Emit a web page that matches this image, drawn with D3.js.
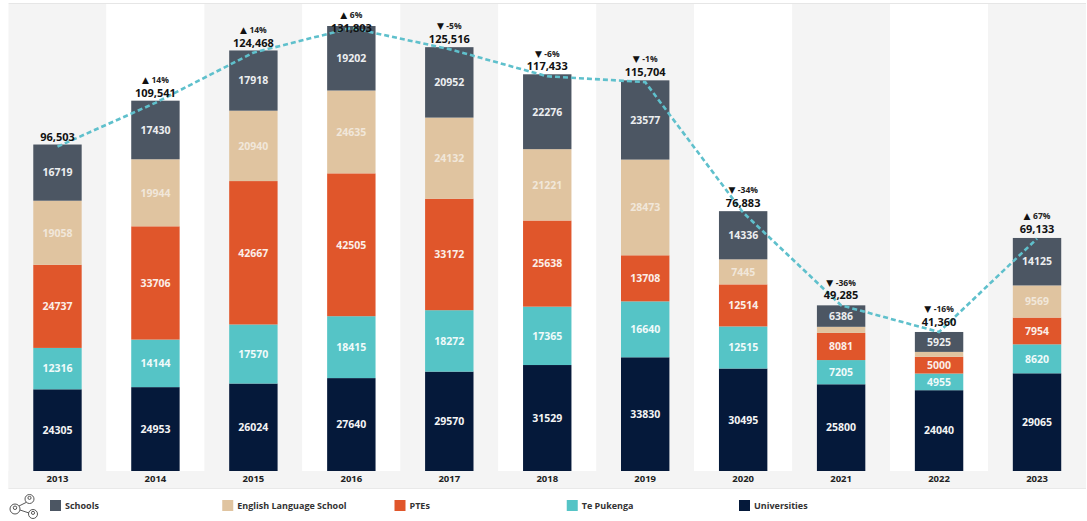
<!DOCTYPE html>
<html>
<head>
<meta charset="utf-8">
<script src="https://cdn.jsdelivr.net/npm/d3@7"></script>
<style>
  html, body { margin: 0; padding: 0; background: #fff; }
  svg { display: block; }
  text { font-family: "Open Sans", "Noto Sans", sans-serif; }
</style>
</head>
<body>
<svg width="1087" height="521"></svg>
<script>
const years = ["2013", "2014", "2015", "2016", "2017", "2018", "2019", "2020", "2021", "2022", "2023"]
const universities = [24305, 24953, 26024, 27640, 29570, 31529, 33830, 30495, 25800, 24040, 29065]
const tePukenga = [12316, 14144, 17570, 18415, 18272, 17365, 16640, 12515, 7205, 4955, 8620]
const ptes = [24737, 33706, 42667, 42505, 33172, 25638, 13708, 12514, 8081, 5000, 7954]
const english = [19058, 19944, 20940, 24635, 24132, 21221, 28473, 7445, 1813, 1440, 9569]
const schools = [16719, 17430, 17918, 19202, 20952, 22276, 23577, 14336, 6386, 5925, 14125]
const totals = [96503, 109541, 124468, 131803, 125516, 117433, 115704, 76883, 49285, 41360, 69133]
const changes = [null, 14, 14, 6, -5, -6, -1, -34, -36, -16, 67]

// bottom of the stack first
const series = [
  { name: "Universities", values: universities, color: "#05193a", label: "#f4f4f4" },
  { name: "Te Pukenga", values: tePukenga, color: "#55c4c6", label: "#f0fafa" },
  { name: "PTEs", values: ptes, color: "#e0562b", label: "#fbeee8" },
  { name: "English Language School", values: english, color: "#e0c4a0", label: "#f1e7da" },
  { name: "Schools", values: schools, color: "#4c5663", label: "#eceef0" },
]
const legendOrder = ["Schools", "English Language School", "PTEs", "Te Pukenga", "Universities"]

const svg = d3.select("svg")

const rows = years.map((year, i) => {
  const row = { year }
  series.forEach((s) => (row[s.name] = s.values[i]))
  return row
})

const stacked = d3.stack().keys(series.map((s) => s.name))(rows)

const x = d3.scaleBand().domain(years).range([8.5, 1086]).padding(0)
const y = d3
  .scaleLinear()
  .domain([0, d3.max(rows, (d) => d3.sum(series, (s) => d[s.name]))])
  .range([471, 26])

const barWidth = 48.4
const center = (year) => x(year) + x.bandwidth() / 2

// alternating column backgrounds
svg
  .append("g")
  .selectAll("rect")
  .data(years)
  .join("rect")
  .attr("x", (d) => x(d))
  .attr("y", 4)
  .attr("width", x.bandwidth())
  .attr("height", 484.5)
  .attr("fill", (d, i) => (i % 2 === 0 ? "#f4f4f4" : "#fff"))

svg
  .append("rect")
  .attr("x", 8.5)
  .attr("y", 471)
  .attr("width", 1077.5)
  .attr("height", 17.5)
  .attr("fill", "#f4f4f4")

svg
  .append("line")
  .attr("x1", 8.5)
  .attr("x2", 1086)
  .attr("y1", 3.5)
  .attr("y2", 3.5)
  .attr("stroke", "#e6e6e6")

svg
  .append("line")
  .attr("x1", 8.5)
  .attr("x2", 1086)
  .attr("y1", 488.5)
  .attr("y2", 488.5)
  .attr("stroke", "#e9e9e9")

svg
  .append("g")
  .selectAll("g")
  .data(stacked)
  .join("g")
  .attr("fill", (d, i) => series[i].color)
  .selectAll("rect")
  .data((d) => d)
  .join("rect")
  .attr("x", (d) => center(d.data.year) - barWidth / 2)
  .attr("y", (d) => y(d[1]))
  .attr("width", barWidth)
  .attr("height", (d) => y(d[0]) - y(d[1]))

// segment labels, thin segments have none
svg
  .append("g")
  .selectAll("g")
  .data(stacked)
  .join("g")
  .attr("fill", (d, i) => series[i].label)
  .selectAll("text")
  .data((d) => d.filter((v) => y(v[0]) - y(v[1]) > 12))
  .join("text")
  .attr("x", (d) => center(d.data.year))
  .attr("y", (d) => (y(d[0]) + y(d[1])) / 2)
  .attr("dy", "0.36em")
  .attr("text-anchor", "middle")
  .attr("font-size", 10.5)
  .attr("font-weight", 700)
  .text((d) => d[1] - d[0])

const line = d3
  .line()
  .x((d, i) => center(years[i]))
  .y((d) => y(d))

svg
  .append("path")
  .attr("d", line(totals))
  .attr("fill", "none")
  .attr("stroke", "#5fc0cc")
  .attr("stroke-width", 2.6)
  .attr("stroke-dasharray", "5 3")

// totals sit above the point, the tallest gets pushed down
const totalY = (d) => Math.max(y(d) - 10, 28)

svg
  .append("g")
  .selectAll("text")
  .data(totals)
  .join("text")
  .attr("x", (d, i) => center(years[i]))
  .attr("y", totalY)
  .attr("dy", "0.36em")
  .attr("text-anchor", "middle")
  .attr("font-size", 11)
  .attr("font-weight", 700)
  .attr("fill", "#111")
  .text((d) => d3.format(",")(d))

const changeLabels = svg
  .append("g")
  .selectAll("text")
  .data(changes)
  .join("text")
  .attr("x", (d, i) => center(years[i]))
  .attr("y", (d, i) => totalY(totals[i]) - 15.5)
  .attr("dy", "0.36em")
  .attr("text-anchor", "middle")
  .attr("font-weight", 700)
  .attr("fill", "#222")

changeLabels
  .append("tspan")
  .attr("font-family", "DejaVu Sans")
  .attr("font-size", 9)
  .attr("fill", "#111")
  .text((d) => (d === null ? "" : d > 0 ? "▲" : "▼"))

changeLabels
  .append("tspan")
  .attr("dx", 2.5)
  .attr("font-size", 8.5)
  .text((d) => (d === null ? "" : d + "%"))

svg
  .append("g")
  .selectAll("text")
  .data(years)
  .join("text")
  .attr("x", (d) => center(d))
  .attr("y", 481)
  .attr("dy", "0.1em")
  .attr("text-anchor", "middle")
  .attr("font-size", 9.5)
  .attr("font-weight", 700)
  .attr("fill", "#222")
  .text((d) => d)

// legend
const legendX = d3.scalePoint().domain(legendOrder).range([50, 739])
const legend = svg
  .append("g")
  .selectAll("g")
  .data(legendOrder)
  .join("g")
  .attr("transform", (d) => "translate(" + legendX(d) + ",500)")

legend
  .append("rect")
  .attr("width", 11)
  .attr("height", 11)
  .attr("fill", (d) => series.find((s) => s.name === d).color)

legend
  .append("text")
  .attr("x", 15)
  .attr("y", 5.5)
  .attr("dy", "0.36em")
  .attr("font-size", 9)
  .attr("font-weight", 700)
  .attr("fill", "#333")
  .text((d) => d)

// little network icon left of the legend
const icon = svg
  .append("g")
  .attr("fill", "#fff")
  .attr("stroke", "#444")
  .attr("stroke-width", 0.9)

icon.append("path").attr("fill", "none").attr("d", "M19 506L27 502M20 510L29 513")
;[
  [15, 509, 5],
  [29.5, 499, 4.5],
  [33, 514, 4.5],
].forEach(([cx, cy, r]) => {
  icon.append("circle").attr("cx", cx).attr("cy", cy).attr("r", r)
  icon.append("circle").attr("cx", cx).attr("cy", cy - r * 0.25).attr("r", r * 0.35)
})
</script>
</body>
</html>
